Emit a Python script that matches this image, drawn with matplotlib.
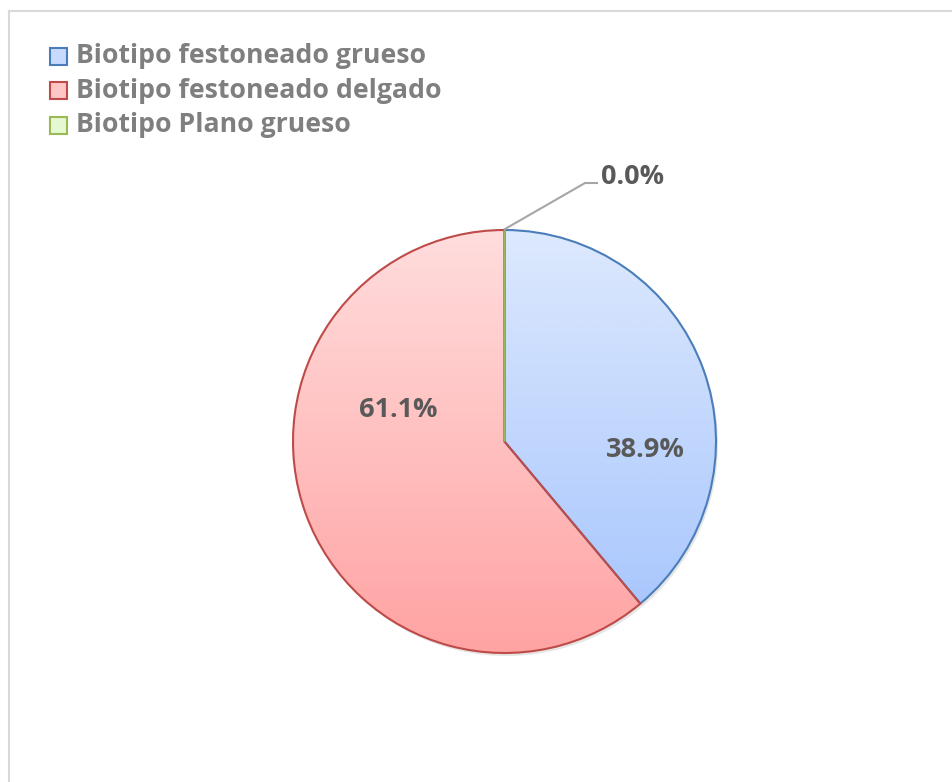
import numpy as np
import matplotlib.pyplot as plt
from matplotlib.patches import Rectangle

labels = ["Biotipo festoneado grueso", "Biotipo festoneado delgado", "Biotipo Plano grueso"]
values = [38.9, 61.1, 0.0]
pct_text = ["38.9%", "61.1%", "0.0%"]

edge_cols = ["#4a7ebb", "#be4b48", "#98b954"]
grad_top = ["#dde9fd", "#ffdddd", "#eefbe0"]
grad_bot = ["#a3c3fd", "#ffa3a3", "#d2f0b0"]
legend_fill = ["#c8dafd", "#ffc6c6", "#e6f8d2"]

W, H = 952, 782
fig = plt.figure(figsize=(W / 100, H / 100), dpi=100)
ax = fig.add_axes([0, 0, 1, 1])
ax.set_xlim(0, W)
ax.set_ylim(0, H)
ax.axis("off")

def fy(y):
    # pixel row from top -> data y
    return H - y

# chart frame (only top/left visible)
ax.plot([9, W], [fy(11), fy(11)], color="#d9d9d9", lw=1.5)
ax.plot([9, 9], [fy(11), 0], color="#d9d9d9", lw=1.5)

cx, cy, r = 504.5, fy(441.5), 211.5

# soft shadow
ax.pie([1], colors=["#e6e6e6"], radius=r, center=(cx + 2, cy - 3),
       wedgeprops=dict(linewidth=0), frame=True)

wedges, _ = ax.pie(values, startangle=90, counterclock=False, radius=r,
                   center=(cx, cy), frame=True,
                   wedgeprops=dict(linewidth=1.5, joinstyle="round"))
ax.set_xlim(0, W)
ax.set_ylim(0, H)
ax.set_aspect("equal")
ax.axis("off")

def hex2rgb(h):
    h = h.lstrip("#")
    return np.array([int(h[i:i + 2], 16) / 255 for i in (0, 2, 4)])

t = np.linspace(0, 1, 256)[:, None]
for w, ec, c0, c1 in zip(wedges, edge_cols, grad_top, grad_bot):
    w.set_facecolor("none")
    w.set_edgecolor(ec)
    w.set_zorder(3)
    img = (1 - t)[..., None] * hex2rgb(c0) + t[..., None] * hex2rgb(c1)
    img = np.repeat(img, 2, axis=1)
    im = ax.imshow(img, extent=(cx - r, cx + r, cy - r, cy + r), origin="upper",
                   aspect="auto", zorder=2, interpolation="bilinear")
    im.set_clip_path(w)

ax.set_xlim(0, W)
ax.set_ylim(0, H)

font = "Open Sans"
lab_col = "#595959"
ax.text(645, fy(450), pct_text[0], ha="center", va="center", fontsize=19.5,
        fontweight="bold", color=lab_col, family=font, zorder=5)
ax.text(398, fy(410), pct_text[1], ha="center", va="center", fontsize=19.5,
        fontweight="bold", color=lab_col, family=font, zorder=5)
ax.plot([505, 585, 597], [fy(229), fy(183), fy(183)], color="#a6a6a6", lw=1.5, zorder=4)
ax.text(601, fy(177), pct_text[2], ha="left", va="center", fontsize=19.5,
        fontweight="bold", color=lab_col, family=font, zorder=5)

# legend
rows = [56, 90.5, 125]
for lab, yy, ec, fc in zip(labels, rows, edge_cols, legend_fill):
    ax.add_patch(Rectangle((50, fy(yy) - 8.5), 17, 17, facecolor=fc, edgecolor=ec, lw=1.5))
    ax.text(76, fy(yy), lab, ha="left", va="center", fontsize=19.2,
            fontweight="bold", color="#7f7f7f", family=font)

fig.savefig("out.png", dpi=100, facecolor="white")
